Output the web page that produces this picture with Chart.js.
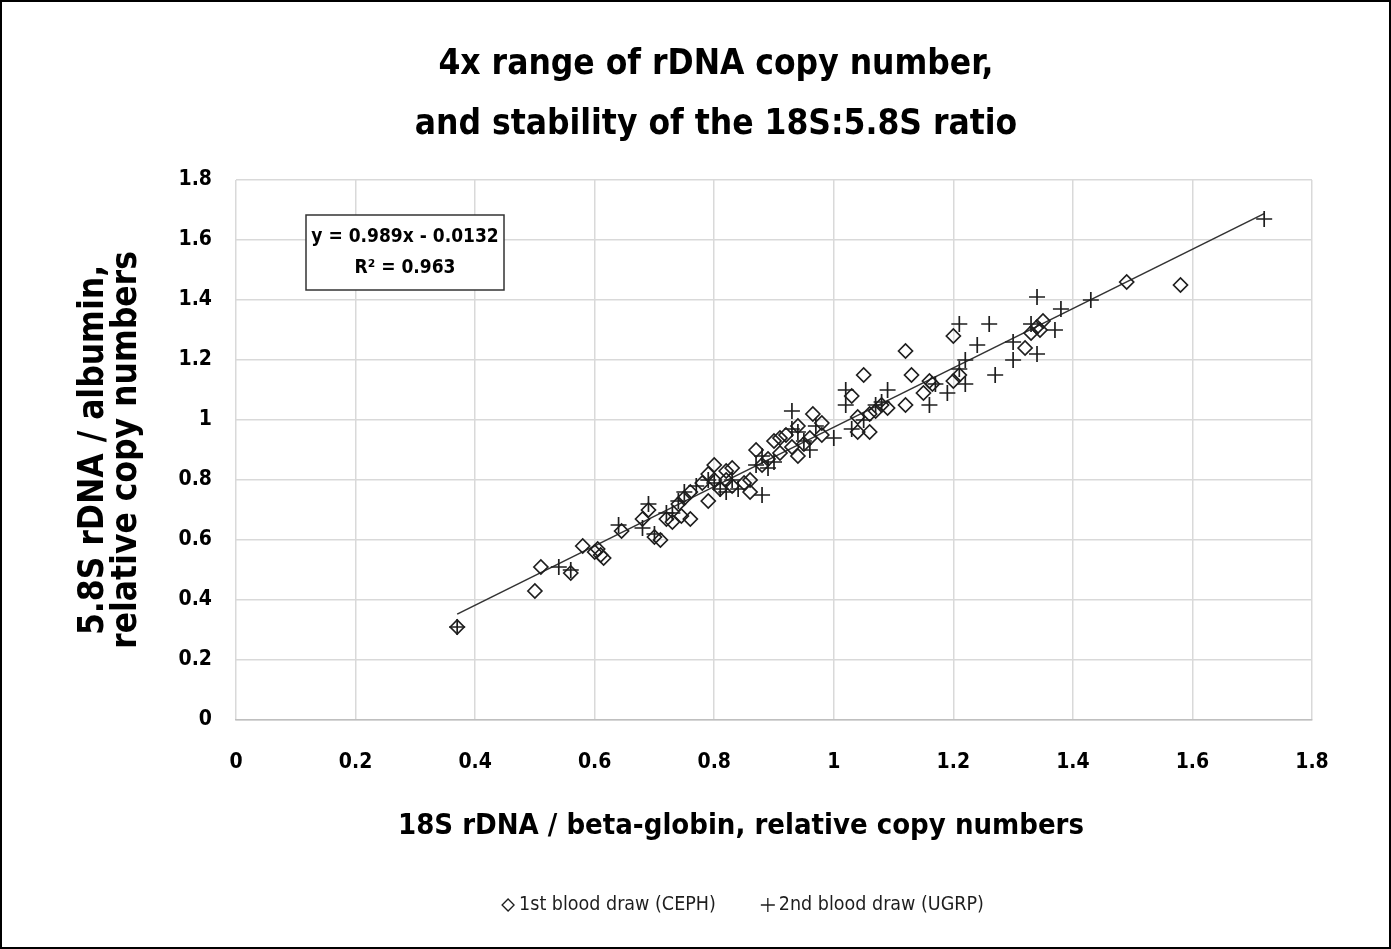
<!DOCTYPE html>
<html>
<head>
<meta charset="utf-8">
<script src="https://cdn.jsdelivr.net/npm/chart.js@4/dist/chart.umd.min.js"></script>
<style>
  html, body { margin: 0; padding: 0; background: #fff; }
  #wrap { width: 1391px; height: 949px; box-sizing: border-box; border: 2px solid #000; position: relative; }
  canvas { display: block; }
</style>
</head>
<body>
<div id="wrap"><canvas id="c" width="1387" height="945"></canvas></div>
<script>
  // 1st blood draw (CEPH), diamonds
  const cephX = [0.37, 0.50, 0.51, 0.56, 0.58, 0.60, 0.605, 0.61, 0.615, 0.645, 0.68, 0.69, 0.70, 0.71, 0.72, 0.73,
    0.74, 0.745, 0.75, 0.76, 0.76, 0.78, 0.79, 0.79, 0.80, 0.80, 0.81, 0.82, 0.82, 0.83, 0.83, 0.85, 0.86, 0.86,
    0.87, 0.88, 0.89, 0.90, 0.91, 0.91, 0.92, 0.93, 0.94, 0.94, 0.95, 0.96, 0.965, 0.98, 0.98, 1.03, 1.04, 1.04,
    1.05, 1.06, 1.06, 1.07, 1.08, 1.09, 1.12, 1.12, 1.13, 1.15, 1.16, 1.165, 1.20, 1.20, 1.21, 1.32, 1.33, 1.34,
    1.345, 1.35, 1.49, 1.58];
  const cephY = [0.31, 0.43, 0.51, 0.49, 0.58, 0.56, 0.57, 0.55, 0.54, 0.63, 0.67, 0.70, 0.61, 0.60, 0.67, 0.66,
    0.72, 0.68, 0.74, 0.67, 0.76, 0.79, 0.82, 0.73, 0.85, 0.80, 0.77, 0.83, 0.80, 0.84, 0.78, 0.79, 0.80, 0.76,
    0.90, 0.85, 0.87, 0.93, 0.89, 0.94, 0.95, 0.91, 0.98, 0.88, 0.92, 0.94, 1.02, 0.99, 0.95, 1.08, 1.01, 0.96,
    1.15, 0.96, 1.02, 1.03, 1.05, 1.04, 1.23, 1.05, 1.15, 1.09, 1.13, 1.12, 1.28, 1.13, 1.15, 1.24, 1.29, 1.31,
    1.30, 1.33, 1.46, 1.45];

  // 2nd blood draw (UGRP), crosses
  const ugrpX = [0.37, 0.54, 0.56, 0.64, 0.68, 0.69, 0.70, 0.72, 0.73, 0.74, 0.75, 0.77, 0.79, 0.80, 0.81, 0.82,
    0.83, 0.84, 0.87, 0.88, 0.88, 0.89, 0.90, 0.93, 0.93, 0.94, 0.95, 0.96, 0.97, 1.00, 1.02, 1.02, 1.03, 1.05,
    1.07, 1.08, 1.09, 1.16, 1.17, 1.19, 1.21, 1.21, 1.22, 1.22, 1.24, 1.26, 1.27, 1.30, 1.30, 1.33, 1.34, 1.34,
    1.37, 1.38, 1.43, 1.72];
  const ugrpY = [0.31, 0.51, 0.50, 0.65, 0.64, 0.72, 0.62, 0.69, 0.69, 0.73, 0.76, 0.78, 0.80, 0.79, 0.77, 0.76,
    0.80, 0.77, 0.85, 0.75, 0.88, 0.84, 0.86, 1.03, 0.97, 0.96, 0.93, 0.90, 0.98, 0.94, 1.05, 1.10, 0.97, 1.00,
    1.05, 1.06, 1.10, 1.05, 1.12, 1.09, 1.32, 1.17, 1.20, 1.12, 1.25, 1.32, 1.15, 1.20, 1.26, 1.32, 1.41, 1.22,
    1.30, 1.37, 1.40, 1.67];

  // linear trend line end points
  const trendX = [0.37, 1.72];
  const trendY = [0.353, 1.688];

  const titleLines = ['4x range of rDNA copy number,', 'and stability of the 18S:5.8S ratio'];
  const xTitle = '18S rDNA / beta-globin, relative copy numbers';
  const yTitle = ['5.8S rDNA / albumin,', 'relative copy numbers'];
  const equationLines = ['y = 0.989x - 0.0132', 'R² = 0.963'];
  const legendLabels = ['1st blood draw (CEPH)', '2nd blood draw (UGRP)'];

  const FONT = '"Liberation Sans Narrow", "DejaVu Sans Condensed", Lato, sans-serif';
  const INK = '#1e1e1e';

  function toPoints(xs, ys) {
    return xs.map((x, i) => ({ x: x, y: ys[i] }));
  }

  function diamond(ctx, x, y, r) {
    ctx.beginPath();
    ctx.moveTo(x, y - r);
    ctx.lineTo(x + r, y);
    ctx.lineTo(x, y + r);
    ctx.lineTo(x - r, y);
    ctx.closePath();
    ctx.stroke();
  }

  function cross(ctx, x, y, r) {
    ctx.beginPath();
    ctx.moveTo(x - r, y);
    ctx.lineTo(x + r, y);
    ctx.moveTo(x, y - r);
    ctx.lineTo(x, y + r);
    ctx.stroke();
  }

  // titles, equation box and legend are drawn here so they sit where the original has them
  const decorations = {
    id: 'decorations',
    afterDraw(chart) {
      const ctx = chart.ctx;
      const area = chart.chartArea;
      ctx.save();

      ctx.fillStyle = '#000';
      ctx.textAlign = 'center';
      ctx.textBaseline = 'middle';
      ctx.font = 'bold 35px ' + FONT;
      ctx.fillText(titleLines[0], 714, 63);
      ctx.fillText(titleLines[1], 714, 123);

      ctx.font = 'bold 29px ' + FONT;
      ctx.fillText(xTitle, 739, 824);

      // regression box
      const left = area.left + 70, top = area.top + 35, w = 198, h = 75;
      ctx.fillStyle = '#fff';
      ctx.fillRect(left, top, w, h);
      ctx.strokeStyle = '#333';
      ctx.lineWidth = 1.5;
      ctx.strokeRect(left, top, w, h);
      ctx.fillStyle = '#000';
      ctx.font = 'bold 19px ' + FONT;
      ctx.fillText(equationLines[0], left + w / 2, top + 22);
      ctx.fillText(equationLines[1], left + w / 2, top + 53);

      // legend
      ctx.font = '19.5px ' + FONT;
      ctx.textAlign = 'left';
      ctx.fillStyle = INK;
      ctx.strokeStyle = INK;
      ctx.lineWidth = 1.3;
      const w0 = ctx.measureText(legendLabels[0]).width;
      const w1 = ctx.measureText(legendLabels[1]).width;
      const sym = 13, gap = 50;
      const total = sym + w0 + gap + sym + w1;
      let x = 743 - total / 2;
      const y = 903;
      diamond(ctx, x + 2, y, 6);
      ctx.fillText(legendLabels[0], x + sym, y);
      x += sym + w0 + gap;
      cross(ctx, x + 2, y, 7);
      ctx.fillText(legendLabels[1], x + sym, y);

      ctx.restore();
    }
  };

  new Chart(document.getElementById('c'), {
    type: 'scatter',
    data: {
      datasets: [
        {
          label: legendLabels[0],
          data: toPoints(cephX, cephY),
          pointStyle: 'rectRot',
          pointRadius: 7,
          pointHoverRadius: 7,
          borderColor: INK,
          backgroundColor: 'rgba(0,0,0,0)',
          pointBorderWidth: 1.7
        },
        {
          label: legendLabels[1],
          data: toPoints(ugrpX, ugrpY),
          pointStyle: 'cross',
          pointRadius: 8,
          pointHoverRadius: 8,
          borderColor: INK,
          backgroundColor: INK,
          pointBorderWidth: 1.7
        },
        {
          label: 'trend',
          type: 'line',
          data: toPoints(trendX, trendY),
          borderColor: '#333',
          borderWidth: 1.6,
          pointRadius: 0,
          fill: false
        }
      ]
    },
    options: {
      responsive: false,
      animation: false,
      layout: { padding: { left: 75, right: 77, top: 178, bottom: 77 } },
      plugins: {
        title: { display: false },
        legend: { display: false },
        tooltip: { enabled: false }
      },
      scales: {
        x: {
          type: 'linear',
          min: 0,
          max: 1.8,
          afterFit: s => { s.height = 150; },
          ticks: {
            stepSize: 0.2,
            color: '#000',
            padding: 30,
            font: { family: FONT, size: 21, weight: 'bold' },
            callback: v => Math.round(v * 10) / 10
          },
          grid: { color: '#d9d9d9', lineWidth: 1.5, drawTicks: false },
          border: { color: '#bfbfbf', width: 1.5 }
        },
        y: {
          type: 'linear',
          min: 0,
          max: 1.8,
          afterFit: s => { s.width = 159; },
          ticks: {
            stepSize: 0.2,
            color: '#000',
            padding: 24,
            font: { family: FONT, size: 21, weight: 'bold' },
            callback: v => Math.round(v * 10) / 10
          },
          grid: { color: '#d9d9d9', lineWidth: 1.5, drawTicks: false },
          border: { display: false },
          title: {
            display: true,
            text: yTitle,
            color: '#000',
            font: { family: FONT, size: 35, weight: 'bold', lineHeight: 0.95 },
            padding: { top: 0, bottom: 0 }
          }
        }
      }
    },
    plugins: [decorations]
  });
</script>
</body>
</html>
